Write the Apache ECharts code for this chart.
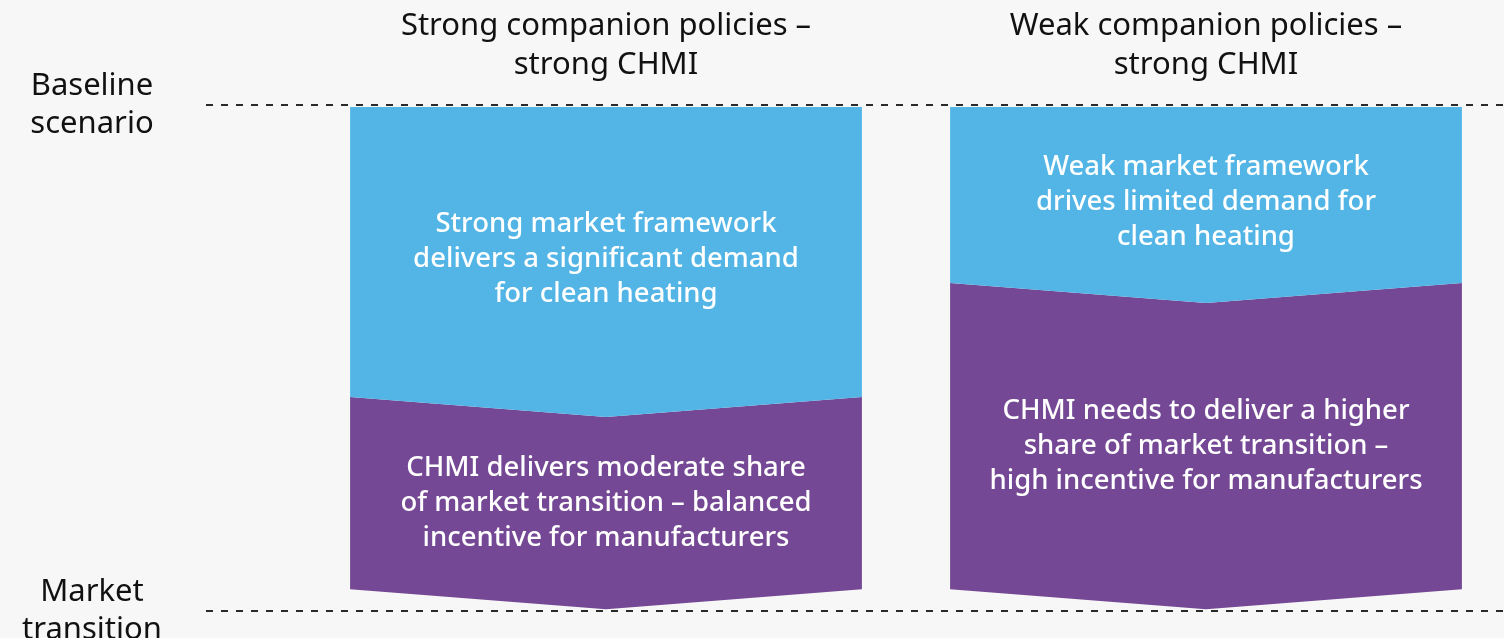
<!DOCTYPE html>
<html>
<head>
<meta charset="utf-8">
<style>
  html, body { margin: 0; padding: 0; background: #f7f7f7; }
  #chart { width: 1504px; height: 638px; }
</style>
</head>
<body>
<div id="chart"></div>
<script src="https://cdn.jsdelivr.net/npm/echarts/dist/echarts.min.js"></script>
<script>
// scenarios across the top
var categories = ['Strong companion policies –\nstrong CHMI', 'Weak companion policies –\nstrong CHMI'];
// share of the market transition (0 = baseline scenario, 100 = market transition)
var marketShare = [57.7, 35.2];   // delivered by the market framework (blue)
var chmiShare = [38, 60.5];       // delivered by CHMI (purple)
var marketText = [
  'Strong market framework\ndelivers a significant demand\nfor clean heating',
  'Weak market framework\ndrives limited demand for\nclean heating'
];
var chmiText = [
  'CHMI delivers moderate share\nof market transition – balanced\nincentive for manufacturers',
  'CHMI needs to deliver a higher\nshare of market transition –\nhigh incentive for manufacturers'
];
var endLabels = ['Baseline\nscenario', 'Market\ntransition'];

var chart = echarts.init(document.getElementById('chart'));
var FONT = '"Noto Sans", "Open Sans", sans-serif';
var TIP = 20; // chevron depth in px

function chevron(color, texts) {
  return function (params, api) {
    var i = api.value(0);
    var start = api.value(1), end = api.value(2);
    var c0 = api.coord([i, start]);
    var c1 = api.coord([i, end]);
    var w = api.size([1, 0])[0] * 0.853;
    var x0 = c0[0] - w / 2, x1 = c0[0] + w / 2, xm = c0[0];
    var top = start === 0 ? c0[1] + 2 : c0[1];
    var topMid = start === 0 ? top : c0[1] + TIP;
    var pts = [[x0, top], [xm, topMid], [x1, top], [x1, c1[1]], [xm, c1[1] + TIP], [x0, c1[1]]];
    var cy = start === 0
      ? (top + c1[1] + TIP * 0.75) / 2
      : ((top + topMid) / 2 + c1[1] + TIP / 2) / 2;
    return {
      type: 'group',
      children: [
        { type: 'polygon', shape: { points: pts }, style: { fill: color } },
        {
          type: 'text',
          style: {
            x: xm, y: cy, text: texts[params.dataIndex],
            fill: '#ffffff', font: '500 27.5px ' + FONT, lineHeight: 35,
            align: 'center', verticalAlign: 'middle'
          }
        }
      ]
    };
  };
}

var marketData = categories.map(function (c, i) { return [i, 0, marketShare[i]]; });
var chmiData = categories.map(function (c, i) { return [i, marketShare[i], marketShare[i] + chmiShare[i]]; });

chart.setOption({
  backgroundColor: '#f7f7f7',
  animation: false,
  grid: [
    { left: 206, right: 1, top: 105, bottom: 27, outerBoundsMode: 'none', containLabel: false },
    { left: 306, right: -2, top: 105, bottom: 27, outerBoundsMode: 'none', containLabel: false }
  ],
  xAxis: [
    { type: 'value', gridIndex: 0, show: false, min: 0, max: 1 },
    {
      type: 'category', gridIndex: 1, position: 'top', data: categories,
      axisLine: { show: false }, axisTick: { show: false },
      axisLabel: { color: '#111', fontSize: 31, lineHeight: 39, fontFamily: FONT, margin: 20 }
    }
  ],
  yAxis: [
    {
      type: 'value', gridIndex: 0, inverse: true, min: 0, max: 100, interval: 100,
      axisLine: { show: false }, axisTick: { show: false },
      axisLabel: {
        color: '#111', fontSize: 31, lineHeight: 38, fontFamily: FONT,
        align: 'center', margin: 114,
        formatter: function (v) { return v === 0 ? endLabels[0] : endLabels[1]; }
      },
      splitLine: { show: true, lineStyle: { color: '#2a2a2a', width: 2, type: [7, 8] } }
    },
    { type: 'value', gridIndex: 1, inverse: true, min: 0, max: 100, show: false }
  ],
  series: [
    {
      type: 'custom', name: 'CHMI', xAxisIndex: 1, yAxisIndex: 1,
      renderItem: chevron('#744894', chmiText), data: chmiData
    },
    {
      type: 'custom', name: 'Market framework', xAxisIndex: 1, yAxisIndex: 1,
      renderItem: chevron('#52b5e6', marketText), data: marketData
    }
  ]
});
</script>
</body>
</html>
